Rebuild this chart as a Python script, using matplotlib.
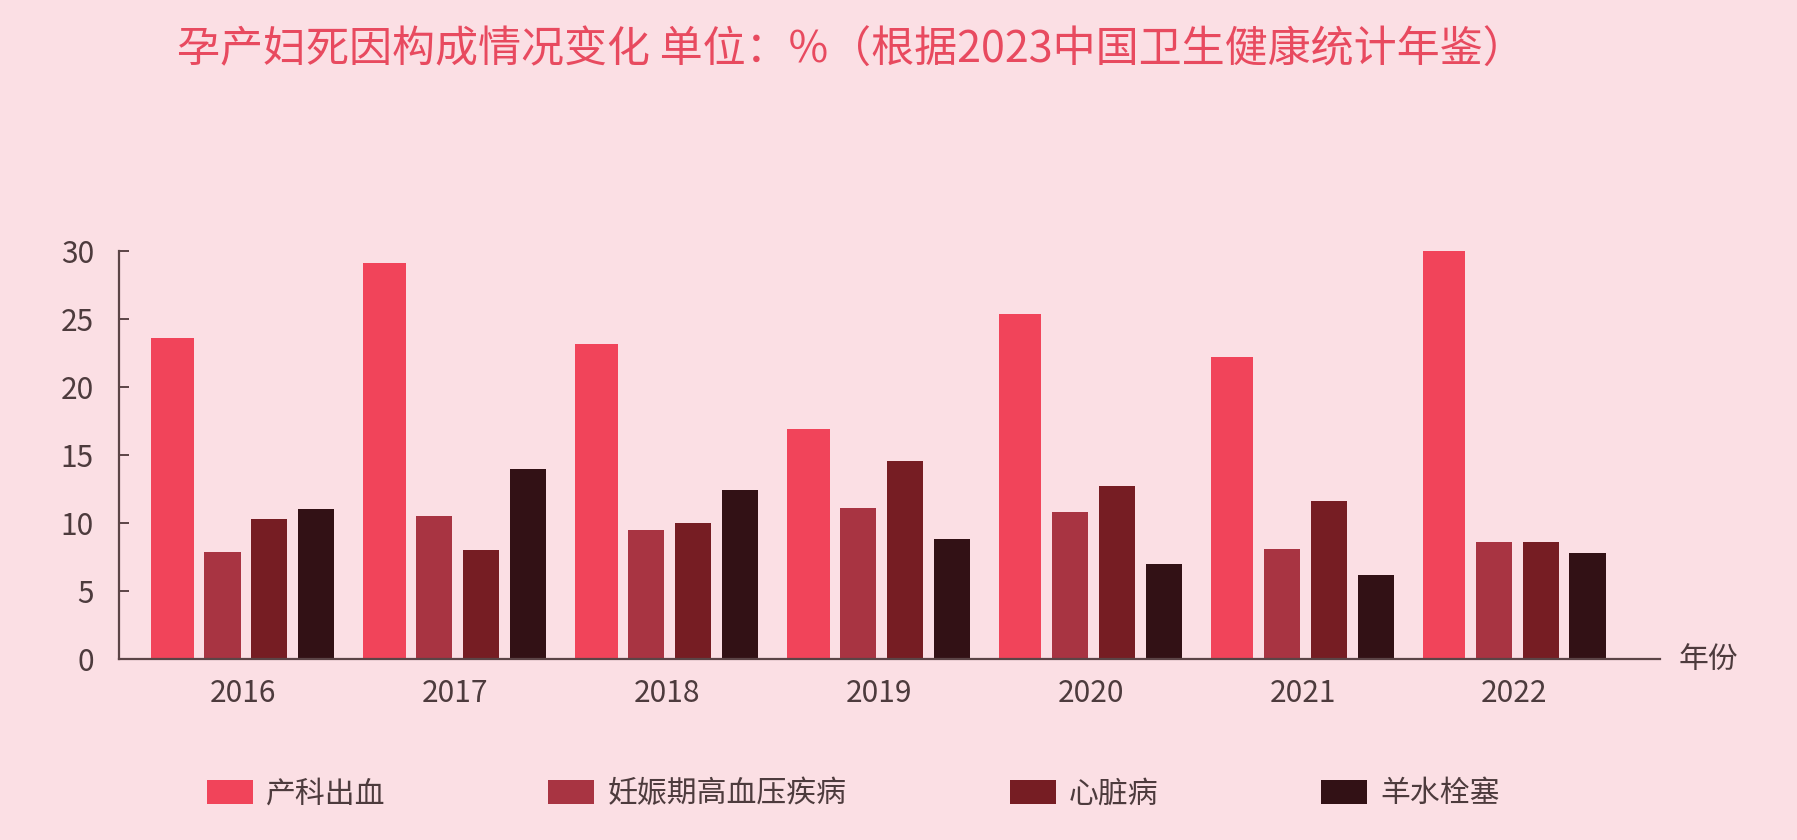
import matplotlib
matplotlib.use("Agg")
import matplotlib.pyplot as plt
import numpy as np

plt.rcParams['font.family'] = ['Noto Sans CJK SC', 'DejaVu Sans']

years = ['2016', '2017', '2018', '2019', '2020', '2021', '2022']
series_names = ['产科出血', '妊娠期高血压疾病', '心脏病', '羊水栓塞']
hemorrhage = [23.6, 29.1, 23.2, 16.9, 25.4, 22.2, 30.0]
hypertension = [7.9, 10.5, 9.5, 11.1, 10.8, 8.1, 8.6]
heart = [10.3, 8.0, 10.0, 14.6, 12.7, 11.6, 8.6]
embolism = [11.0, 14.0, 12.4, 8.8, 7.0, 6.2, 7.8]

title = '孕产妇死因构成情况变化 单位：%（根据2023中国卫生健康统计年鉴）'

bg = '#fbdfe4'
colors = ['#f1445a', '#a83442', '#761d23', '#321115']
text_col = '#4d3b3d'
axis_col = '#5b4446'

fig = plt.figure(figsize=(17.97, 8.40), dpi=100, facecolor=bg)
ax = fig.add_axes([0.0662, 0.2155, 0.8576, 0.4855])
ax.set_facecolor(bg)

x = np.arange(len(years))
widths = [0.200, 0.172, 0.172, 0.172]
gap = 0.049
total = sum(widths) + gap * 3
left = -total / 2
all_values = [hemorrhage, hypertension, heart, embolism]
for i, vals in enumerate(all_values):
    center = left + widths[i] / 2
    ax.bar(x + center, vals, width=widths[i], color=colors[i], label=series_names[i])
    left += widths[i] + gap

ax.set_xlim(-0.584, 6.687)
ax.set_ylim(0, 30)
ax.set_yticks([0, 5, 10, 15, 20, 25, 30])
ax.set_xticks(x)
ax.set_xticklabels(years)

for s in ['top', 'right']:
    ax.spines[s].set_visible(False)
for s in ['left', 'bottom']:
    ax.spines[s].set_color(axis_col)
    ax.spines[s].set_linewidth(1.6)

ax.tick_params(axis='y', direction='in', length=7, width=1.4, color=axis_col,
               labelsize=21.5, labelcolor=text_col, pad=18)
ax.tick_params(axis='x', length=0, labelsize=21.5, labelcolor=text_col, pad=14)

ax.text(1.012, 0.0, '年份', transform=ax.transAxes, fontsize=21.5, color=text_col,
        ha='left', va='center')

fig.text(0.4735, 0.939, title, fontsize=31, color='#e84a5f', ha='center', va='center')

fig.legend(loc='center', bbox_to_anchor=(0.475, 0.055), ncol=4, frameon=False,
           fontsize=21.5, handlelength=1.54, handleheight=0.84, handletextpad=0.45,
           columnspacing=5.45, labelcolor=text_col)

fig.savefig('out.png', dpi=100, facecolor=bg)
